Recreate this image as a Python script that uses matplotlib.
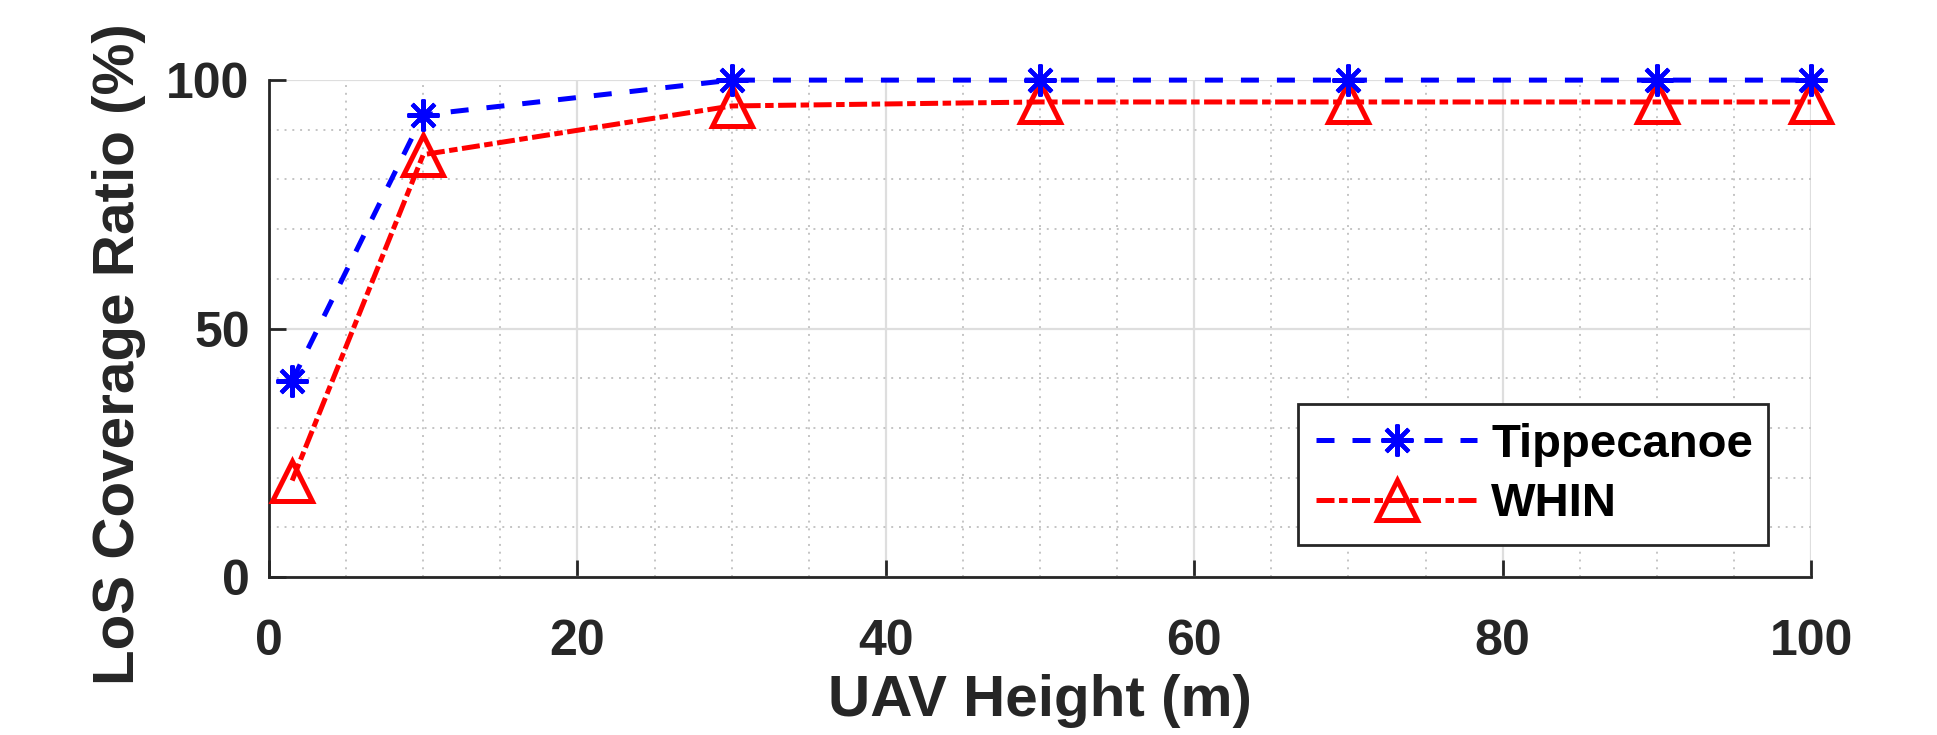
"""LoS coverage ratio against UAV height for the two regions."""
import matplotlib
matplotlib.use("Agg")
import matplotlib.pyplot as plt
from matplotlib.ticker import MultipleLocator

heights = [1.5, 10, 30, 50, 70, 90, 100]
tippecanoe = [39.5, 93, 100, 100, 100, 100, 100]
whin = [19.4, 85, 94.8, 95.6, 95.6, 95.6, 95.6]
series_names = ["Tippecanoe", "WHIN"]

x_ticks = [0, 20, 40, 60, 80, 100]
y_ticks = [0, 50, 100]

DARK = "#262626"

plt.rcParams["font.family"] = ["Liberation Sans", "DejaVu Sans"]
plt.rcParams["font.weight"] = "bold"

fig = plt.figure(figsize=(19.37, 7.35), dpi=100)
ax = fig.add_axes([0.1389, 0.215, 0.935 - 0.1389, 0.891 - 0.215])

ax.plot(heights, tippecanoe, color="#0000ff", linewidth=3.6, dashes=(3.6, 3.6),
        marker=(8, 2, 0), markersize=23, markeredgewidth=3.0,
        label=series_names[0], zorder=4, clip_on=False)
ax.plot(heights, whin, color="#ff0000", linewidth=3.6, dashes=(3.6, 0.9, 1.7, 0.9),
        marker="^", markersize=29, markeredgewidth=3.6, markerfacecolor="none",
        label=series_names[1], zorder=3, clip_on=False)

ax.set_xlim(0, 100)
ax.set_ylim(0, 100)
ax.set_xticks(x_ticks)
ax.set_yticks(y_ticks)
ax.xaxis.set_minor_locator(MultipleLocator(5))
ax.yaxis.set_minor_locator(MultipleLocator(10))

ax.grid(True, which="major", color="#dedede", linewidth=1.6, zorder=0)
ax.grid(True, which="minor", color="#c4c4c4", linewidth=1.4, linestyle=(0, (1, 3)), zorder=0)
ax.set_axisbelow(True)

for side in ("top", "right"):
    ax.spines[side].set_visible(False)
for side in ("left", "bottom"):
    ax.spines[side].set_color(DARK)
    ax.spines[side].set_linewidth(2.0)

ax.tick_params(which="major", direction="in", length=12, width=2.0, color=DARK,
               labelsize=36, labelcolor=DARK, top=False, right=False)
ax.tick_params(axis="x", which="major", pad=30)
ax.tick_params(axis="y", which="major", pad=14)
ax.tick_params(which="minor", length=0)
for lbl in ax.get_xticklabels() + ax.get_yticklabels():
    lbl.set_fontweight("bold")

ax.set_xlabel("UAV Height (m)", fontsize=42, fontweight="bold", color=DARK, labelpad=7)
ax.set_ylabel("LoS Coverage Ratio (%)", fontsize=42, fontweight="bold", color=DARK)
ax.yaxis.set_label_coords(-0.080, 0.448)

leg = ax.legend(loc="lower left", bbox_to_anchor=(0.667, 0.064, 0.305, 0.286),
                mode="expand", fontsize=34, frameon=True, fancybox=False,
                framealpha=1, edgecolor=DARK, handlelength=3.4, handletextpad=0.3,
                borderpad=0.4, labelspacing=0.33, borderaxespad=0)
leg.get_frame().set_linewidth(2.0)
for t in leg.get_texts():
    t.set_fontweight("bold")
    t.set_color("black")

fig.savefig("out.png", dpi=100)
